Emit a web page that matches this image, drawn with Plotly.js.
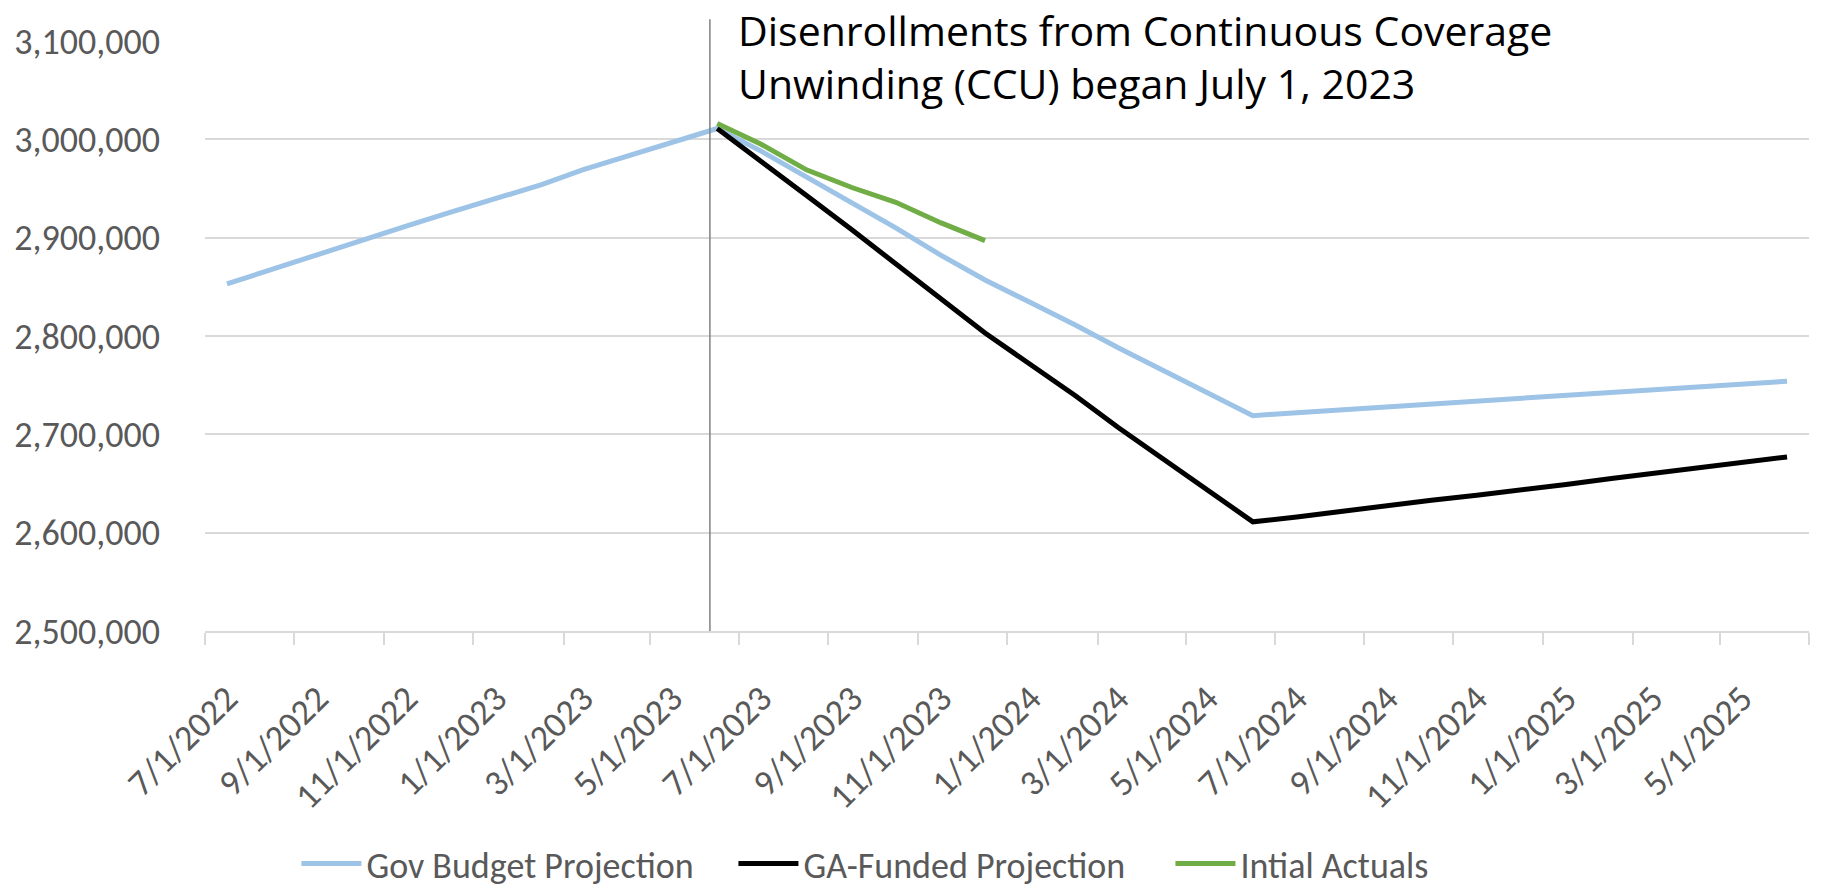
<!DOCTYPE html>
<html>
<head>
<meta charset="utf-8">
<script src="https://cdn.plot.ly/plotly-3.0.1.min.js"></script>
<style>
  html, body { margin: 0; padding: 0; background: #fff; }
  #chart { width: 1824px; height: 894px; }
</style>
</head>
<body>
<div id="chart"></div>
<script>
// monthly points, 7/2022 .. 6/2025
const meses = [
  '2022-07-01','2022-08-01','2022-09-01','2022-10-01','2022-11-01','2022-12-01',
  '2023-01-01','2023-02-01','2023-03-01','2023-04-01','2023-05-01','2023-06-01',
  '2023-07-01','2023-08-01','2023-09-01','2023-10-01','2023-11-01','2023-12-01',
  '2024-01-01','2024-02-01','2024-03-01','2024-04-01','2024-05-01','2024-06-01',
  '2024-07-01','2024-08-01','2024-09-01','2024-10-01','2024-11-01','2024-12-01',
  '2025-01-01','2025-02-01','2025-03-01','2025-04-01','2025-05-01','2025-06-01'
];

const govBudget = [
  2853000, 2868000, 2883000, 2898000, 2912000, 2926000,
  2940000, 2954000, 2969000, 2983000, 2997000, 3011000,
  2988000, 2962000, 2936000, 2910000, 2882000, 2857000,
  2834000, 2811000, 2788000, 2765000, 2742000, 2719000,
  2722000, 2725000, 2728000, 2731000, 2734000, 2737000,
  2740000, 2743000, 2746000, 2748000, 2751000, 2754000
];

const gaFunded = [
  null, null, null, null, null, null,
  null, null, null, null, null, 3011000,
  2978000, 2943000, 2908000, 2873000, 2838000, 2803000,
  2771000, 2739000, 2707000, 2675000, 2643000, 2611000,
  2616000, 2622000, 2627000, 2633000, 2638000, 2644000,
  2649000, 2655000, 2660000, 2666000, 2671000, 2677000
];

const actuales = [
  null, null, null, null, null, null,
  null, null, null, null, null, 3016000,
  2995000, 2969000, 2951000, 2936000, 2915000, 2897000
];

const tickFechas = [
  '2022-07-01','2022-09-01','2022-11-01','2023-01-01','2023-03-01','2023-05-01',
  '2023-07-01','2023-09-01','2023-11-01','2024-01-01','2024-03-01','2024-05-01',
  '2024-07-01','2024-09-01','2024-11-01','2025-01-01','2025-03-01','2025-05-01'
];
const tickTextos = [
  '7/1/2022','9/1/2022','11/1/2022','1/1/2023','3/1/2023','5/1/2023',
  '7/1/2023','9/1/2023','11/1/2023','1/1/2024','3/1/2024','5/1/2024',
  '7/1/2024','9/1/2024','11/1/2024','1/1/2025','3/1/2025','5/1/2025'
];

const tituloCCU = 'Disenrollments from Continuous Coverage<br>Unwinding (CCU) began July 1, 2023';
const fechaCCU = '2023-05-27';

// tick marks sit between the monthly slots (half a month before each label)
const limites = tickFechas.map(d => {
  const f = new Date(d + 'T00:00:00Z');
  f.setUTCMonth(f.getUTCMonth() - 1);
  return f.toISOString().slice(0, 8) + '16';
});
limites.push('2025-06-16');

const fuente = 'Calibri, Carlito, Lato, sans-serif';
const gris = '#595959';

const trazas = [
  {
    x: meses, y: govBudget, type: 'scatter', mode: 'lines',
    name: 'Gov Budget Projection',
    line: { color: '#9DC3E6', width: 5 }
  },
  {
    x: meses, y: gaFunded, type: 'scatter', mode: 'lines',
    name: 'GA-Funded Projection',
    line: { color: '#000000', width: 5 }
  },
  {
    x: meses.slice(0, actuales.length), y: actuales, type: 'scatter', mode: 'lines',
    name: 'Intial Actuals',
    line: { color: '#70AD47', width: 5 }
  }
];

const layout = {
  width: 1824, height: 894,
  margin: { l: 205, r: 15, t: 41, b: 263 },
  paper_bgcolor: '#ffffff', plot_bgcolor: '#ffffff',
  font: { family: fuente, size: 36, color: gris },
  showlegend: true,
  legend: {
    orientation: 'h', xref: 'paper', x: 0.057, xanchor: 'left',
    yref: 'container', y: 0.034, yanchor: 'middle',
    font: { family: fuente, size: 36, color: gris },
    itemwidth: 60, entrywidth: 362, entrywidthmode: 'pixels'
  },
  xaxis: {
    type: 'date', automargin: false,
    range: ['2022-06-16', '2025-06-16'],
    tickmode: 'array', tickvals: tickFechas, ticktext: tickTextos,
    tickangle: -45, ticks: '', showgrid: false,
    showline: true, linecolor: '#D9D9D9', linewidth: 2,
    ticklabelstandoff: 30,
    tickfont: { family: fuente, size: 36, color: gris },
    minor: {
      tickmode: 'array', tickvals: limites, ticks: 'outside',
      ticklen: 12, tickwidth: 2, tickcolor: '#D9D9D9', showgrid: false
    },
    zeroline: false, fixedrange: true
  },
  yaxis: {
    automargin: false,
    range: [2500000, 3100000], dtick: 100000, tick0: 2500000,
    tickformat: ',d', showgrid: true, gridcolor: '#D9D9D9', gridwidth: 2,
    ticks: '', showline: false, zeroline: false, ticklabelstandoff: 44,
    tickfont: { family: fuente, size: 36, color: gris },
    fixedrange: true
  },
  shapes: [
    {
      type: 'line', xref: 'x', yref: 'paper',
      x0: fechaCCU, x1: fechaCCU, y0: 0, y1: 1.037,
      line: { color: '#808080', width: 1.5 }
    }
  ],
  annotations: [
    {
      text: tituloCCU, xref: 'paper', yref: 'paper',
      x: 0.331, y: 1.069, xanchor: 'left', yanchor: 'top', align: 'left',
      showarrow: false,
      font: { family: '"Open Sans", sans-serif', size: 41, color: '#000000' }
    }
  ]
};

Plotly.newPlot('chart', trazas, layout, { displayModeBar: false, staticPlot: true });
</script>
</body>
</html>
